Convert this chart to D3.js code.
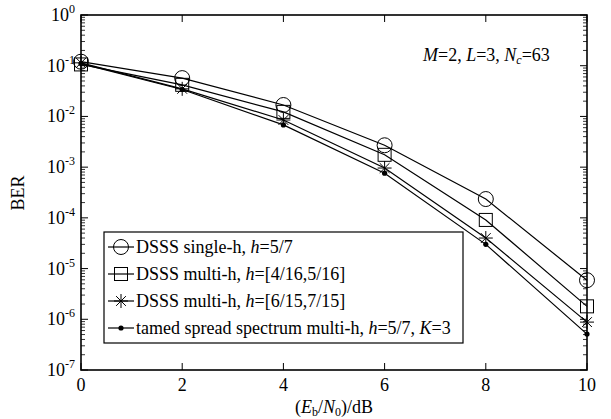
<!DOCTYPE html>
<html>
<head>
<meta charset="utf-8">
<script src="https://cdn.jsdelivr.net/npm/d3@7"></script>
<style>
  body { margin: 0; background: #fff; }
</style>
</head>
<body>
<svg id="chart" width="611" height="419" style="font-family: 'Liberation Serif', 'DejaVu Serif', serif;"></svg>
<script>
"use strict";

// Eb/N0 (dB)
var snr = [0, 2, 4, 6, 8, 10];
// BER values
var berSingle = [0.12, 0.057, 0.0168, 2.7e-3, 2.35e-4, 5.9e-6];
var berMulti1 = [0.106, 0.042, 0.0123, 1.75e-3, 9.1e-5, 1.8e-6];
var berMulti2 = [0.114, 0.035, 8.5e-3, 9.6e-4, 4.0e-5, 8.8e-7];
var berTamed = [0.11, 0.034, 6.8e-3, 7.6e-4, 3.0e-5, 5.1e-7];

var seriesNames = ["single", "multi1", "multi2", "tamed"];
var xTicks = [0, 2, 4, 6, 8, 10];
var yExps = [0, -1, -2, -3, -4, -5, -6, -7];

var FONT = "'Liberation Serif', 'DejaVu Serif', serif";
var svg = d3.select("#chart");
var plotL = 81, plotR = 587, plotT = 15, plotB = 370;

var x = d3.scaleLinear().domain([0, 10]).range([plotL, plotR]);
var y = d3.scaleLog().domain([1e-7, 1]).range([plotB, plotT]);

var all = [berSingle, berMulti1, berMulti2, berTamed];

function txt(sel, size) {
  return sel.append("text").style("font-family", FONT).style("font-size", size + "px").attr("fill", "#000");
}

// minor + major ticks on y (left and right, inward)
var g = svg.append("g");
yExps.forEach(function(e) {
  var v = Math.pow(10, e);
  g.append("line").attr("x1", plotL).attr("x2", plotL + 7).attr("y1", y(v)).attr("y2", y(v))
    .attr("stroke", "#000").attr("stroke-width", 1);
  g.append("line").attr("x1", plotR).attr("x2", plotR - 7).attr("y1", y(v)).attr("y2", y(v))
    .attr("stroke", "#000").attr("stroke-width", 1);
  if (e > -7) {
    for (var k = 2; k <= 9; k++) {
      var m = k * Math.pow(10, e - 1);
      g.append("line").attr("x1", plotL).attr("x2", plotL + 4).attr("y1", y(m)).attr("y2", y(m))
        .attr("stroke", "#000").attr("stroke-width", 0.8);
      g.append("line").attr("x1", plotR).attr("x2", plotR - 4).attr("y1", y(m)).attr("y2", y(m))
        .attr("stroke", "#000").attr("stroke-width", 0.8);
    }
  }
  var t = txt(g, 18).attr("x", 75).attr("y", y(v) + 6).attr("text-anchor", "end");
  t.append("tspan").text("10");
  t.append("tspan").attr("dy", -8).style("font-size", "12px").text(String(e));
});

// x ticks
xTicks.forEach(function(d) {
  g.append("line").attr("x1", x(d)).attr("x2", x(d)).attr("y1", plotB).attr("y2", plotB - 7)
    .attr("stroke", "#000").attr("stroke-width", 1);
  g.append("line").attr("x1", x(d)).attr("x2", x(d)).attr("y1", plotT).attr("y2", plotT + 7)
    .attr("stroke", "#000").attr("stroke-width", 1);
  txt(g, 18).attr("x", x(d)).attr("y", plotB + 21).attr("text-anchor", "middle").text(d);
});

// frame
svg.append("rect").attr("x", plotL).attr("y", plotT).attr("width", plotR - plotL).attr("height", plotB - plotT)
  .attr("fill", "none").attr("stroke", "#000").attr("stroke-width", 1.6);

// marker drawing
function marker(sel, type, cx, cy) {
  if (type === "single") {
    sel.append("circle").attr("cx", cx).attr("cy", cy).attr("r", 7.5)
      .attr("fill", "none").attr("stroke", "#000").attr("stroke-width", 1);
  } else if (type === "multi1") {
    sel.append("rect").attr("x", cx - 6.5).attr("y", cy - 6.5).attr("width", 13).attr("height", 13)
      .attr("fill", "none").attr("stroke", "#000").attr("stroke-width", 1);
  } else if (type === "multi2") {
    var r = 7;
    var p = "M" + (cx - r) + "," + cy + "L" + (cx + r) + "," + cy +
      "M" + cx + "," + (cy - r) + "L" + cx + "," + (cy + r) +
      "M" + (cx - r * 0.7) + "," + (cy - r * 0.7) + "L" + (cx + r * 0.7) + "," + (cy + r * 0.7) +
      "M" + (cx - r * 0.7) + "," + (cy + r * 0.7) + "L" + (cx + r * 0.7) + "," + (cy - r * 0.7);
    sel.append("path").attr("d", p).attr("stroke", "#000").attr("stroke-width", 1).attr("fill", "none");
  } else {
    sel.append("circle").attr("cx", cx).attr("cy", cy).attr("r", 2.6).attr("fill", "#000");
  }
}

var line = d3.line().x(function(d) { return x(d[0]); }).y(function(d) { return y(d[1]); });

all.forEach(function(vals, i) {
  var pts = snr.map(function(s, j) { return [s, vals[j]]; });
  svg.append("path").datum(pts).attr("d", line)
    .attr("fill", "none").attr("stroke", "#000").attr("stroke-width", 1.2);
  var mg = svg.append("g");
  pts.forEach(function(p) { marker(mg, seriesNames[i], x(p[0]), y(p[1])); });
});

// legend
var legX = 104, legY = 232, legW = 359, legH = 111;
svg.append("rect").attr("x", legX).attr("y", legY).attr("width", legW).attr("height", legH)
  .attr("fill", "#fff").attr("stroke", "#000").attr("stroke-width", 1.2);

var legendItems = [
  [{t: "DSSS single-h, "}, {t: "h", i: true}, {t: "=5/7"}],
  [{t: "DSSS multi-h, "}, {t: "h", i: true}, {t: "=[4/16,5/16]"}],
  [{t: "DSSS multi-h, "}, {t: "h", i: true}, {t: "=[6/15,7/15]"}],
  [{t: "tamed spread spectrum multi-h, "}, {t: "h", i: true}, {t: "=5/7, "}, {t: "K", i: true}, {t: "=3"}]
];
legendItems.forEach(function(parts, i) {
  var ly = 247 + i * 27;
  svg.append("line").attr("x1", 108).attr("x2", 134).attr("y1", ly).attr("y2", ly)
    .attr("stroke", "#000").attr("stroke-width", 1.2);
  marker(svg, seriesNames[i], 121, ly);
  var t = txt(svg, 18).attr("x", 136).attr("y", ly + 6);
  parts.forEach(function(p) {
    t.append("tspan").style("font-style", p.i ? "italic" : "normal").text(p.t);
  });
});

// annotation
var ann = txt(svg, 18).attr("x", 423).attr("y", 61);
ann.append("tspan").style("font-style", "italic").text("M");
ann.append("tspan").text("=2, ");
ann.append("tspan").style("font-style", "italic").text("L");
ann.append("tspan").text("=3, ");
ann.append("tspan").style("font-style", "italic").text("N");
ann.append("tspan").style("font-style", "italic").style("font-size", "12px").attr("dy", 3).text("c");
ann.append("tspan").attr("dy", -3).text("=63");

// axis titles
var xt = txt(svg, 18).attr("x", 334).attr("y", 413).attr("text-anchor", "middle");
xt.append("tspan").text("(");
xt.append("tspan").style("font-style", "italic").text("E");
xt.append("tspan").style("font-size", "12px").attr("dy", 3).text("b");
xt.append("tspan").attr("dy", -3).text("/");
xt.append("tspan").style("font-style", "italic").text("N");
xt.append("tspan").style("font-size", "12px").attr("dy", 3).text("0");
xt.append("tspan").attr("dy", -3).text(")/dB");

txt(svg, 18).attr("transform", "translate(24,193) rotate(-90)")
  .attr("text-anchor", "middle").text("BER");
</script>
</body>
</html>
